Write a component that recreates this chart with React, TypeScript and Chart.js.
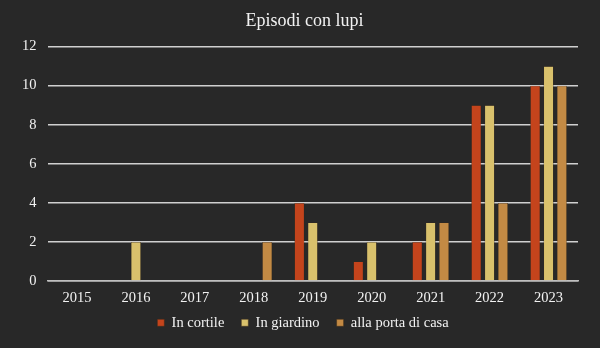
import React, { useEffect, useRef } from "react";
import { Chart, registerables } from "chart.js";

Chart.register(...registerables);

const categories = ["2015", "2016", "2017", "2018", "2019", "2020", "2021", "2022", "2023"];
const inCortile = [0, 0, 0, 0, 4, 1, 2, 9, 10];
const inGiardino = [0, 2, 0, 0, 3, 2, 3, 9, 11];
const allaPorta = [0, 0, 0, 2, 0, 0, 3, 4, 10];
const seriesNames = ["In cortile", "In giardino", "alla porta di casa"];
const title = "Episodi con lupi";

const FONT = "'Liberation Serif', 'DejaVu Serif', serif";

export default function App() {
  const ref = useRef<HTMLCanvasElement | null>(null);
  useEffect(() => {
    document.body.style.margin = "0";
    const ctx = ref.current!;
    const bg = {
      id: "bg",
      beforeDraw(chart: any) {
        const c = chart.ctx;
        c.save();
        c.fillStyle = "#282828";
        c.fillRect(0, 0, chart.width, chart.height);
        c.restore();
      },
      afterLayout(chart: any) {
        if (chart.titleBlock) chart.titleBlock.left += 20;
        if (chart.legend) {
          chart.legend.left += 17;
          chart.legend.top -= 8;
          chart.legend.bottom -= 8;
        }
      },
    };
    const chart = new Chart(ctx, {
      type: "bar",
      data: {
        labels: categories,
        datasets: [
          { label: seriesNames[0], data: inCortile, backgroundColor: "#c4441c", borderColor: "#3a2a1a", borderWidth: 0.5 },
          { label: seriesNames[1], data: inGiardino, backgroundColor: "#d9c16c", borderColor: "#3a2a1a", borderWidth: 0.5 },
          { label: seriesNames[2], data: allaPorta, backgroundColor: "#c38a44", borderColor: "#3a2a1a", borderWidth: 0.5 },
        ],
      },
      options: {
        animation: false,
        responsive: false,
        maintainAspectRatio: false,
        datasets: { bar: { categoryPercentage: 0.68, barPercentage: 0.75 } },
        layout: { padding: { left: 11, right: 22, top: 8, bottom: 0 } },
        plugins: {
          title: {
            display: true,
            text: title,
            color: "#f2f2f2",
            font: { family: FONT, size: 18, weight: "normal" },
            padding: { top: 2, bottom: 15 },
          },
          legend: {
            position: "bottom",
            labels: {
              color: "#f2f2f2",
              font: { family: FONT, size: 14.5 },
              boxWidth: 7,
              boxHeight: 7,
              padding: 17,
            },
          },
          tooltip: { enabled: false },
        },
        scales: {
          x: {
            grid: { display: false },
            border: { display: true, color: "#bfbfbf", width: 1.5 },
            ticks: { color: "#f2f2f2", font: { family: FONT, size: 14.5 }, padding: 0 },
          },
          y: {
            min: 0,
            max: 12,
            ticks: { stepSize: 2, color: "#f2f2f2", font: { family: FONT, size: 14.5 }, padding: 11 },
            grid: { color: "#d0d0d0", lineWidth: 1.5, drawTicks: false },
            border: { display: false },
          },
        },
      },
      plugins: [bg],
    } as any);
    return () => chart.destroy();
  }, []);
  return (
    <div style={{ position: "fixed", left: 0, top: 0, width: 600, height: 348 }}>
      <canvas ref={ref} width={600} height={348} />
    </div>
  );
}
